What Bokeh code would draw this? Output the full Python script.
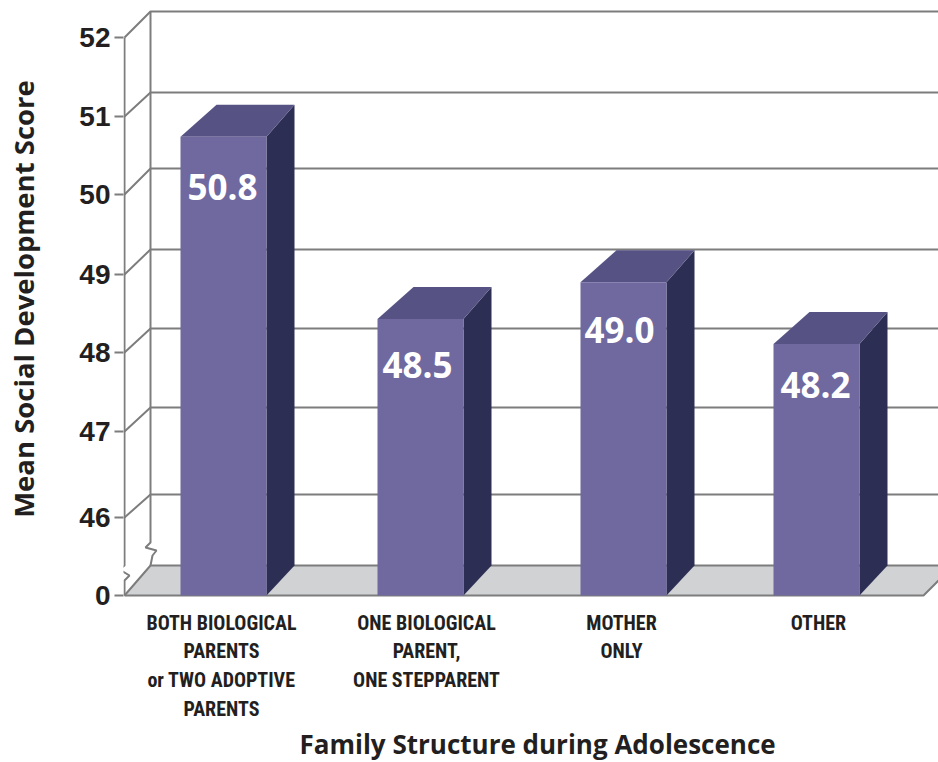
import numpy as np
from bokeh.embed import file_html
from bokeh.models import FixedTicker, Label, LinearAxis, Range1d, Title
from bokeh.plotting import figure
from bokeh.resources import INLINE

# ---- chart values ----
categories = [
    "BOTH BIOLOGICAL\nPARENTS\nor TWO ADOPTIVE\nPARENTS",
    "ONE BIOLOGICAL\nPARENT,\nONE STEPPARENT",
    "MOTHER\nONLY",
    "OTHER",
]
bar_values = [50.74, 48.43, 48.90, 48.11]   # heights as drawn in the picture
bar_labels = ["50.8", "48.5", "49.0", "48.2"]
tick_scores = [0, 46, 47, 48, 49, 50, 51, 52]

# ---- layout of the drawn (broken, slightly uneven) axis ----
front_pos = [595, 517, 431, 352, 274, 194, 116, 37]
back_pos = [565, 494, 407, 328, 249, 168, 92, 11]
FRAME_L, FRAME_B = 123, 597
AX_X, WALL_X, RIGHT_X = 124, 150, 938
bar_left = [180, 377, 580, 773]
BAR_W = 86
DX_L, DX_R, DY_TOP = 36, 28, 32
cat_label_x = [221, 426, 621, 818]
value_label_x = [222, 417, 619, 815]
value_label_drop = [50, 46, 48, 41]


def front(score):
    return float(np.interp(score, tick_scores, front_pos))


FRONT_C, TOP_C, SIDE_C = "#6f69a0", "#565384", "#2d2e54"
FLOOR_C, LINE_C, INK = "#d1d2d4", "#7d7d7d", "#231f20"

p = figure(
    width=938, height=762, output_backend="svg", toolbar_location=None,
    x_range=Range1d(FRAME_L, RIGHT_X), y_range=Range1d(FRAME_B, 0),
    x_axis_location=None, y_axis_location=None,
    min_border_left=FRAME_L, min_border_right=0, min_border_top=0, min_border_bottom=762 - FRAME_B,
)
p.outline_line_color = None
p.grid.visible = False
p.background_fill_color = "white"

# floor
p.patch([AX_X, WALL_X, RIGHT_X, RIGHT_X, 923], [front_pos[0], back_pos[0], back_pos[0], 580, front_pos[0]],
        fill_color=FLOOR_C, line_color=None)
p.line([AX_X, 923, RIGHT_X], [front_pos[0], front_pos[0], 580], line_color=LINE_C, line_width=2)

# wall grid lines and connectors
for fp, bp in zip(front_pos, back_pos):
    p.line([AX_X, WALL_X, RIGHT_X], [fp, bp, bp], line_color=LINE_C, line_width=2)

# front and back vertical axes with their breaks
p.line([AX_X, AX_X, 129, 119, AX_X, AX_X], [front_pos[0], 580, 575, 569, 565, front_pos[-1]],
       line_color=LINE_C, line_width=2)
p.line([WALL_X, 152, 156, 145, WALL_X, WALL_X], [back_pos[0], 555, 550, 547, 542, back_pos[-1]],
       line_color=LINE_C, line_width=2)

# bars
for left, val in zip(bar_left, bar_values):
    top = front(val)
    right = left + BAR_W
    base, back_base = front_pos[0], back_pos[0]
    p.patch([right, right + DX_R, right + DX_R, right],
            [top, top - DY_TOP, back_base, base], fill_color=SIDE_C, line_color=None)
    p.patch([left, left + DX_L, right + DX_R, right],
            [top, top - DY_TOP, top - DY_TOP, top], fill_color=TOP_C, line_color=None)
    p.patch([left, right, right, left], [top, top, base, base], fill_color=FRONT_C, line_color=None)

for x, val, drop, txt in zip(value_label_x, bar_values, value_label_drop, bar_labels):
    p.add_layout(Label(x=x, y=front(val) + drop, text=txt, text_align="center", text_baseline="middle",
                       text_color="white", text_font="Open Sans", text_font_style="bold",
                       text_font_size="35px"))

# y axis
yax = LinearAxis(
    ticker=FixedTicker(ticks=front_pos),
    major_label_overrides={fp: str(s) for fp, s in zip(front_pos, tick_scores)},
    axis_label="Mean Social Development Score",
    axis_label_text_font="Open Sans", axis_label_text_font_style="bold",
    axis_label_text_font_size="27.5px", axis_label_text_color=INK, axis_label_standoff=34,
    major_label_text_font="Liberation Sans", major_label_text_font_style="bold",
    major_label_text_font_size="28px", major_label_text_color=INK, major_label_standoff=4,
    major_tick_in=0, major_tick_out=9, major_tick_line_color=LINE_C, major_tick_line_width=2,
    minor_tick_line_color=None, axis_line_color=None,
)
p.add_layout(yax, "left")

# x axis
xax = LinearAxis(
    ticker=FixedTicker(ticks=cat_label_x),
    major_label_overrides=dict(zip(cat_label_x, categories)),
    major_label_text_font="Roboto Condensed", major_label_text_font_style="bold",
    major_label_text_font_size="20px", major_label_text_color=INK, major_label_standoff=7,
    major_tick_line_color=None, minor_tick_line_color=None, axis_line_color=None,
)
p.add_layout(xax, "below")

p.add_layout(Title(text="Family Structure during Adolescence", align="left", offset=176, standoff=0,
                   text_color=INK, text_font="Open Sans", text_font_style="bold",
                   text_font_size="26px"), "below")

open("out.html", "w").write(file_html(p, INLINE))
